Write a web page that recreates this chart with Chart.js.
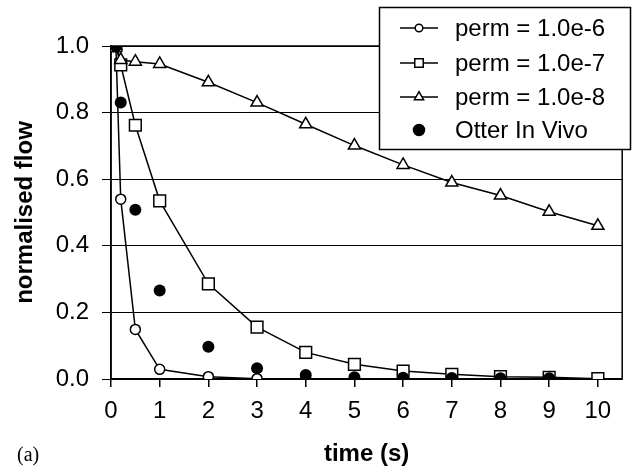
<!DOCTYPE html>
<html lang="en">
<head>
    <meta charset="UTF-8">
    <title>normalised flow</title>
    <style>
        html, body { margin: 0; padding: 0; background: #fff; }
    </style>
</head>
<body>
<!--  include chart.js-->
<script src="https://cdn.jsdelivr.net/npm/chart.js@4.4.1/dist/chart.umd.min.js"></script>
<canvas id="flow-chart" width="632" height="469"></canvas>

<script>
    // time points (s) and the normalised flow for each run
    const times = [0.1, 0.2, 0.5, 1, 2, 3, 4, 5, 6, 7, 8, 9, 10];
    const perm6 = [1.0, 0.54, 0.149, 0.029, 0.007, 0.001, 0, 0, 0, 0, 0, 0, 0];
    const perm7 = [1.0, 0.943, 0.762, 0.535, 0.286, 0.156, 0.080, 0.044, 0.024, 0.014, 0.007, 0.005, 0.001];
    const perm8 = [1.0, 0.958, 0.953, 0.946, 0.891, 0.830, 0.765, 0.701, 0.643, 0.590, 0.551, 0.502, 0.460];
    const otterTimes = [0.1, 0.2, 0.5, 1, 2, 3, 4, 5, 6, 7, 8, 9];
    const otter = [1.0, 0.83, 0.508, 0.266, 0.097, 0.032, 0.012, 0.005, 0.004, 0.003, 0.002, 0.002];
    const seriesLabels = ['perm = 1.0e-6', 'perm = 1.0e-7', 'perm = 1.0e-8', 'Otter In Vivo'];
    const xTickValues = [0, 1, 2, 3, 4, 5, 6, 7, 8, 9, 10];

    const FONT = "'Liberation Sans', Arial, sans-serif";

    function toPoints(xs, ys) {
        return xs.map((x, i) => ({x: x, y: ys[i]}));
    }

    // box round the plot area (top and right edges)
    const frame = {
        id: 'frame',
        beforeDatasetsDraw(chart) {
            const a = chart.chartArea;
            const ctx = chart.ctx;
            ctx.save();
            ctx.strokeStyle = '#000';
            ctx.lineWidth = 1.5;
            ctx.strokeRect(a.left, a.top, a.right - a.left, a.bottom - a.top);
            ctx.restore();
        }
    };

    // legend box with line + marker samples, and the "(a)" panel label
    const boxLegend = {
        id: 'boxLegend',
        afterDraw(chart) {
            const ctx = chart.ctx;
            ctx.save();
            ctx.fillStyle = '#fff';
            ctx.fillRect(379, 7, 252, 143);
            ctx.strokeStyle = '#000';
            ctx.lineWidth = 1.5;
            ctx.strokeRect(379.5, 7.5, 251, 142);

            const rows = [28, 63, 97, 130];
            chart.data.datasets.forEach((ds, i) => {
                const y = rows[i];
                if (ds.showLine !== false) {
                    ctx.strokeStyle = '#000';
                    ctx.lineWidth = 1.5;
                    ctx.beginPath();
                    ctx.moveTo(400, y);
                    ctx.lineTo(438, y);
                    ctx.stroke();
                }
                ctx.fillStyle = ds.pointBackgroundColor;
                ctx.strokeStyle = '#000';
                ctx.lineWidth = 1.5;
                Chart.helpers.drawPoint(ctx, {
                    pointStyle: ds.pointStyle,
                    radius: ds.legendRadius,
                    rotation: 0,
                    borderWidth: 1.5
                }, 419, y);
                ctx.fillStyle = '#000';
                ctx.font = '24px ' + FONT;
                ctx.textBaseline = 'middle';
                ctx.textAlign = 'left';
                ctx.fillText(ds.label, 455, y + 1);
            });

            ctx.font = "20px 'Liberation Serif', 'Times New Roman', serif";
            ctx.textBaseline = 'middle';
            ctx.fillText('(a)', 17, 456);
            ctx.restore();
        }
    };

    new Chart(document.getElementById('flow-chart'), {
        type: 'scatter',
        data: {
            datasets: [{
                label: seriesLabels[0],
                data: toPoints(times, perm6),
                showLine: true,
                borderColor: '#000',
                borderWidth: 1.5,
                pointStyle: 'circle',
                pointRadius: 5,
                pointBackgroundColor: '#fff',
                pointBorderColor: '#000',
                pointBorderWidth: 1.5,
                legendRadius: 3.8,
                order: 4
            }, {
                label: seriesLabels[1],
                data: toPoints(times, perm7),
                showLine: true,
                borderColor: '#000',
                borderWidth: 1.5,
                pointStyle: 'rect',
                pointRadius: 8.3,
                pointBackgroundColor: '#fff',
                pointBorderColor: '#000',
                pointBorderWidth: 1.5,
                legendRadius: 6,
                order: 3
            }, {
                label: seriesLabels[2],
                data: toPoints(times, perm8),
                showLine: true,
                borderColor: '#000',
                borderWidth: 1.5,
                pointStyle: 'triangle',
                pointRadius: 7,
                pointBackgroundColor: '#fff',
                pointBorderColor: '#000',
                pointBorderWidth: 1.5,
                legendRadius: 5.3,
                order: 2
            }, {
                label: seriesLabels[3],
                data: toPoints(otterTimes, otter),
                showLine: false,
                pointStyle: 'circle',
                pointRadius: 6,
                pointBackgroundColor: '#000',
                pointBorderColor: '#000',
                pointBorderWidth: 0,
                legendRadius: 5.5,
                order: 1
            }]
        },
        options: {
            responsive: false,
            animation: false,
            layout: {padding: {top: 46, right: 5, left: 0, bottom: 0}},
            plugins: {
                legend: {display: false},
                tooltip: {enabled: false}
            },
            scales: {
                x: {
                    type: 'linear',
                    min: 0,
                    max: 10.5,
                    afterBuildTicks: scale => {
                        scale.ticks = xTickValues.map(v => ({value: v}));
                    },
                    afterFit: scale => { scale.height = 90; },
                    ticks: {
                        color: '#000',
                        font: {family: FONT, size: 24},
                        padding: 10,
                        maxRotation: 0,
                        autoSkip: false
                    },
                    grid: {
                        drawOnChartArea: false,
                        drawTicks: true,
                        tickLength: 8,
                        color: '#000',
                        lineWidth: 1.5
                    },
                    border: {display: true, color: '#000', width: 1.5},
                    title: {
                        display: true,
                        text: 'time (s)',
                        color: '#000',
                        font: {family: FONT, size: 24, weight: 'bold'},
                        padding: {top: 0, bottom: 0}
                    }
                },
                y: {
                    min: 0,
                    max: 1,
                    afterFit: scale => { scale.width = 111; },
                    ticks: {
                        stepSize: 0.2,
                        color: '#000',
                        font: {family: FONT, size: 24},
                        padding: 13,
                        callback: v => v.toFixed(1)
                    },
                    grid: {
                        color: '#000',
                        lineWidth: 1,
                        tickLength: 9
                    },
                    border: {display: true, color: '#000', width: 1.5},
                    title: {
                        display: true,
                        text: 'normalised flow',
                        color: '#000',
                        font: {family: FONT, size: 24, weight: 'bold'},
                        padding: {top: 11, bottom: 0}
                    }
                }
            }
        },
        plugins: [frame, boxLegend]
    });
</script>
</body>
</html>
